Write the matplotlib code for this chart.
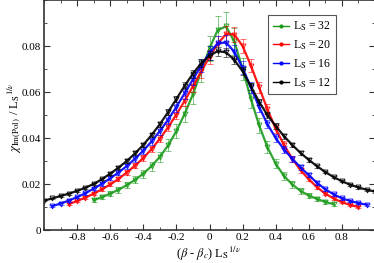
import numpy as np
import matplotlib
matplotlib.use('Agg')
import matplotlib.pyplot as plt
from matplotlib.ticker import MultipleLocator
from matplotlib.lines import Line2D

plt.rcParams['font.family'] = ['Liberation Serif', 'DejaVu Serif']
plt.rcParams['mathtext.fontset'] = 'stix'

# data
x_12 = np.round(np.arange(-1.0, 1.0001, 0.05), 2)
y_12 = [0.0128, 0.0137, 0.0148, 0.0158, 0.0170, 0.0184, 0.0200, 0.0221, 0.0245, 0.0271,
        0.0300, 0.0333, 0.0370, 0.0413, 0.0460, 0.0513, 0.0570, 0.0627, 0.0680, 0.0725,
        0.0758, 0.0778, 0.0772, 0.0740, 0.0690, 0.0625, 0.0557, 0.0500, 0.0452, 0.0408,
        0.0370, 0.0335, 0.0305, 0.0277, 0.0252, 0.0230, 0.0212, 0.0197, 0.0185, 0.0175,
        0.0167]

x_16 = np.round(np.arange(-0.95, 0.9501, 0.05), 2)
y_16 = [0.0104, 0.0115, 0.0128, 0.0143, 0.0160, 0.0180, 0.0201, 0.0225, 0.0250, 0.0278,
        0.0310, 0.0345, 0.0385, 0.0430, 0.0480, 0.0535, 0.0595, 0.0655, 0.0715, 0.0770,
        0.0812, 0.0815, 0.0775, 0.0705, 0.0620, 0.0535, 0.0460, 0.0400, 0.0350, 0.0310,
        0.0272, 0.0238, 0.0205, 0.0177, 0.0155, 0.0138, 0.0126, 0.0117, 0.0110]

x_20 = np.round(np.arange(-0.85, 0.9001, 0.05), 2)
y_20 = [0.0113, 0.0126, 0.0141, 0.0158, 0.0177, 0.0198, 0.0222, 0.0250, 0.0280, 0.0313,
        0.0352, 0.0397, 0.0447, 0.0502, 0.0562, 0.0625, 0.0690, 0.0752, 0.0810, 0.0852,
        0.0850, 0.0800, 0.0715, 0.0620, 0.0525, 0.0440, 0.0370, 0.0310, 0.0260, 0.0220,
        0.0186, 0.0158, 0.0137, 0.0121, 0.0109, 0.0100]

x_32 = np.round(np.arange(-0.70, 0.7501, 0.05), 2)
y_32 = [0.0130, 0.0143, 0.0158, 0.0175, 0.0195, 0.0218, 0.0245, 0.0278, 0.0318, 0.0368,
        0.0430, 0.0505, 0.0590, 0.0690, 0.0790, 0.0870, 0.0885, 0.0820, 0.0700, 0.0570,
        0.0455, 0.0360, 0.0288, 0.0235, 0.0198, 0.0170, 0.0150, 0.0135, 0.0122, 0.0112]

# relative error bar size per lattice
rel_err = {32: 0.07, 20: 0.04, 16: 0.04, 12: 0.025}

series = [(32, x_32, y_32, '#1a9a1a'),
          (20, x_20, y_20, 'red'),
          (16, x_16, y_16, 'blue'),
          (12, x_12, y_12, 'black')]

fig = plt.figure(figsize=(3.74, 2.63), dpi=100)
ax = fig.add_axes([44/374, 33/263, 331/374, 230/263])

handles = []
for L, xs, ys, c in series:
    ys = np.array(ys)
    ax.errorbar(xs, ys, yerr=rel_err[L]*ys, fmt='none', ecolor=c, capsize=2,
                elinewidth=0.7, capthick=0.7, alpha=0.55)
    ax.plot(xs, ys, color=c, lw=1.6, marker='v', ms=3.5, mfc='none', mew=0.7,
            alpha=0.9)
    handles.append(Line2D([], [], color=c, lw=1.0, marker='o', ms=2,
                          markevery=[0, -1], label=r'L$_\mathrm{S}$ = %d' % L))

ax.set_xlim(-1, 1)
ax.set_ylim(0, 0.1)
ax.xaxis.set_minor_locator(MultipleLocator(0.1))
ax.yaxis.set_minor_locator(MultipleLocator(0.01))
ax.tick_params(which='both', direction='in', top=True, right=True, labelsize=8,
               color='#333333', pad=2)
ax.tick_params(which='major', length=4.5)
ax.tick_params(which='minor', length=2.5)
ax.set_xticks([-0.8, -0.6, -0.4, -0.2, 0, 0.2, 0.4, 0.6, 0.8])
ax.set_xticklabels(['-0.8', '-0.6', '-0.4', '-0.2', '0', '0.2', '0.4', '0.6', '0.8'])
ax.set_yticks([0, 0.02, 0.04, 0.06, 0.08])
ax.set_yticklabels(['0', '0.02', '0.04', '0.06', '0.08'])
for s in ax.spines.values():
    s.set_color('#333333')
    s.set_linewidth(1.2)

# axis titles
fig.text(209/374, 1 - 258/263, r'($\beta$ - $\beta_c$) L$_\mathrm{S}$$^{1/\nu}$',
         fontsize=9, ha='center', va='baseline')
fig.text(18/374, 1 - 118/263,
         r'$\chi_{\mathrm{Im(Pol)}}$ / L$_\mathrm{S}$$^{1/\nu}$',
         fontsize=9, ha='center', va='baseline', rotation=90, rotation_mode='anchor')

leg = ax.legend(handles=handles, loc='upper right', bbox_to_anchor=(0.883, 0.935),
                fontsize=8.5, frameon=True, fancybox=False, edgecolor='#555555',
                framealpha=1, handlelength=1.3, handletextpad=0.4, borderpad=0.4,
                labelspacing=0.45, borderaxespad=0)
leg.get_frame().set_linewidth(0.8)

fig.savefig('out.png', dpi=100)
